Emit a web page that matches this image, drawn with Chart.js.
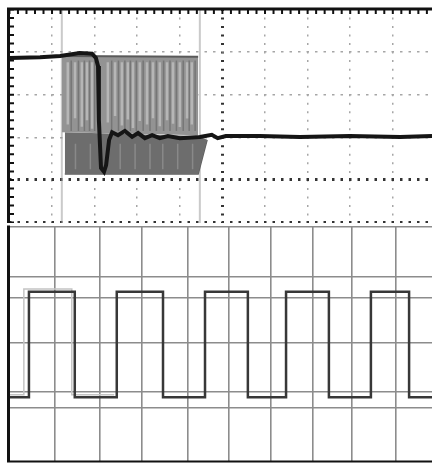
<!DOCTYPE html>
<html>
<head>
<meta charset="utf-8">
<script src="https://cdn.jsdelivr.net/npm/chart.js@4/dist/chart.umd.min.js"></script>
<style>
  html, body { margin: 0; padding: 0; background: #fff; width: 432px; height: 464px; overflow: hidden; }
  .panel { position: absolute; left: 7px; width: 425px; }
  #topPanel { top: 7px; height: 216px; }
  #bottomPanel { top: 225px; height: 239px; }
</style>
</head>
<body>
<div class="panel" id="topPanel"><canvas id="scopeTop"></canvas></div>
<div class="panel" id="bottomPanel"><canvas id="scopeBottom"></canvas></div>
<script>
// ---- top screen (divisions) ----
const traceT = [0, 0.72, 1.19, 1.65, 1.94, 2.03, 2.08, 2.10, 2.15, 2.22, 2.27, 2.34, 2.41, 2.55, 2.71, 2.88, 3.02, 3.18, 3.35, 3.53, 3.72, 4.00, 4.47, 4.75, 4.89, 5.08, 5.88, 6.82, 7.99, 9.17, 9.92];
const traceV = [3.86, 3.88, 3.91, 3.98, 3.96, 3.86, 3.67, 2.41, 1.28, 1.19, 1.35, 1.94, 2.12, 2.05, 2.15, 2.01, 2.10, 1.98, 2.05, 1.98, 2.03, 1.98, 2.01, 2.06, 1.98, 2.03, 2.03, 2.01, 2.03, 2.01, 2.03];

// persistence band left behind by the switching
const bandT = [1.23, 4.43];
const bandTopV = [3.91, 3.89];
const bandMidV = [2.12, 2.05];
const lowerT = [1.30, 4.43, 4.64];
const lowerTopV = [2.12, 2.03, 1.94];
const lowerBotV = [1.14, 1.14, 1.94];

const streakT = [1.37, 1.54, 1.70, 1.82, 1.94, 2.31, 2.48, 2.64, 2.78, 2.90, 3.06, 3.23, 3.37, 3.53, 3.70, 3.84, 4.00, 4.17, 4.28];
const streakLowV = [2.30, 2.45, 2.25, 2.40, 2.20, 2.35, 2.50, 2.28, 2.42, 2.22, 2.38, 2.30, 2.45, 2.26, 2.40, 2.32, 2.24, 2.44, 2.30];
const streakHighV = 3.76;
const darkStreakT = [1.45, 1.62, 1.76, 1.88, 2.00, 2.40, 2.56, 2.71, 2.84, 2.98, 3.14, 3.30, 3.45, 3.62, 3.77, 3.92, 4.08, 4.22, 4.36];
const darkStreakV = [2.15, 3.80];
const lowStreakT = [1.55, 1.90, 2.60, 2.95, 3.30, 3.60, 3.95, 4.30];
const lowStreakV = [1.25, 1.85];

const cursorT = [1.23, 4.47];

const topGridT = [1, 2, 3, 4, 5, 6, 7, 8, 9];
const topGridV = [0, 1, 2, 3, 4];

// ---- bottom screen ----
const waveEdges = [0.39, 1.47, 2.46, 3.55, 4.54, 5.55, 6.45, 7.46, 8.45, 9.35];
const waveHigh = 3.62;
const waveLow = 1.38;
const ghostEdges = [0.27, 1.40];
const ghostHigh = 3.68;
const ghostLow = 1.43;

const bottomGridT = [1.0, 2.06, 3.05, 4.14, 5.11, 6.1, 7.07, 8.01, 9.04];
const bottomGridV = [1.15, 1.49, 2.53, 3.49, 3.94, 5.0];

const pts = (xs, ys) => xs.map((x, i) => ({ x, y: ys[i] }));
const segments = (xs, lows, high) =>
  xs.flatMap((x, i) => [{ x, y: high }, { x, y: Array.isArray(lows) ? lows[i] : lows }, { x, y: null }]);
const steps = (edges, hi, lo, start, end) => {
  const p = [{ x: start, y: lo }];
  edges.forEach((x, i) => p.push({ x, y: i % 2 === 0 ? hi : lo }));
  p.push({ x: end, y: lo });
  return p;
};

const scopeFrame = {
  id: 'scopeFrame',
  afterDatasetsDraw(chart, args, opts) {
    const { ctx, chartArea: a, scales: { x, y } } = chart;
    ctx.save();
    ctx.strokeStyle = '#111';
    if (opts.minor) {
      ctx.lineWidth = 2;
      ctx.beginPath();
      for (let i = 0; i * opts.minor <= y.max; i++) {
        const py = y.getPixelForValue(i * opts.minor);
        ctx.moveTo(a.left, py);
        ctx.lineTo(a.left + 5, py);
      }
      for (let i = 0; i * opts.minor <= x.max; i++) {
        const px = x.getPixelForValue(i * opts.minor);
        ctx.moveTo(px, a.top);
        ctx.lineTo(px, a.top + 5);
      }
      ctx.stroke();
    }
    ctx.lineWidth = 3;
    ctx.beginPath();
    ctx.moveTo(a.left - 0.5, a.bottom);
    ctx.lineTo(a.left - 0.5, a.top - 1.5);
    if (opts.top) {
      ctx.moveTo(a.left - 2, a.top);
      ctx.lineTo(a.right, a.top);
    }
    ctx.stroke();
    if (opts.bottom) {
      ctx.lineWidth = 2;
      ctx.beginPath();
      ctx.moveTo(a.left - 2, a.bottom - 0.5);
      ctx.lineTo(a.right, a.bottom - 0.5);
      ctx.stroke();
    }
    ctx.restore();
  }
};

const axis = (min, max, ticks, grid, dash) => ({
  type: 'linear',
  min, max,
  afterBuildTicks: (scale) => { scale.ticks = ticks.map((value) => ({ value })); },
  ticks: { display: false },
  border: { display: false, dash },
  grid: Object.assign({ drawTicks: false }, grid)
});

const baseOptions = (scales, padding, frame) => ({
  responsive: true,
  maintainAspectRatio: false,
  animation: false,
  events: [],
  layout: { padding },
  scales,
  elements: { point: { radius: 0 }, line: { tension: 0 } },
  plugins: { legend: { display: false }, tooltip: { enabled: false }, scopeFrame: frame }
});

const darkAt = (v) => (ctx) => ctx.tick && ctx.tick.value === v;

new Chart(document.getElementById('scopeTop'), {
  type: 'line',
  plugins: [scopeFrame],
  data: {
    datasets: [
      { data: pts(traceT, traceV), borderColor: '#151515', borderWidth: 4, fill: false },
      { data: segments(streakT, streakLowV, streakHighV), borderColor: 'rgba(205,205,205,0.6)', borderWidth: 2.5, spanGaps: false, fill: false },
      { data: segments(darkStreakT, darkStreakV[0], darkStreakV[1]), borderColor: 'rgba(85,85,85,0.45)', borderWidth: 1.5, spanGaps: false, fill: false },
      { data: segments(lowStreakT, lowStreakV[0], lowStreakV[1]), borderColor: 'rgba(160,160,160,0.55)', borderWidth: 1.5, spanGaps: false, fill: false },
      { data: pts(bandT, bandTopV), borderColor: '#5a5a5a', borderWidth: 2, backgroundColor: '#939393', fill: 5 },
      { data: pts(bandT, bandMidV), borderWidth: 0, borderColor: 'rgba(0,0,0,0)', fill: false },
      { data: pts(lowerT, lowerTopV), borderWidth: 0, borderColor: 'rgba(0,0,0,0)', backgroundColor: '#6d6d6d', fill: 7 },
      { data: pts(lowerT, lowerBotV), borderColor: '#5f5f5f', borderWidth: 1.5, fill: false },
      { data: segments(cursorT, -0.01, 5.01), borderColor: 'rgba(150,150,150,0.5)', borderWidth: 2, spanGaps: false, fill: false }
    ]
  },
  options: baseOptions({
    x: axis(-0.01, 9.92, topGridT, {
      color: (c) => darkAt(5)(c) ? '#333' : '#a6a6a6',
      lineWidth: (c) => darkAt(5)(c) ? 3 : 1.5
    }, [2, 6.52]),
    y: axis(-0.01, 5.01, topGridV, {
      color: (c) => (darkAt(0)(c) || darkAt(1)(c)) ? '#333' : '#a6a6a6',
      lineWidth: (c) => (darkAt(0)(c) || darkAt(1)(c)) ? 3 : 1.5
    }, [2.5, 6])
  }, { left: 2, top: 2, right: 0, bottom: 0 }, { minor: 0.2, top: true })
});

new Chart(document.getElementById('scopeBottom'), {
  type: 'line',
  plugins: [scopeFrame],
  data: {
    datasets: [
      { data: steps(waveEdges, waveHigh, waveLow, -0.08, 9.89), stepped: 'before', borderColor: '#383838', borderWidth: 2.5, fill: false },
      { data: steps(ghostEdges, ghostHigh, ghostLow, -0.08, 2.4), stepped: 'before', borderColor: '#c4c4c4', borderWidth: 1.5, fill: false }
    ]
  },
  options: baseOptions({
    x: axis(-0.08, 9.89, bottomGridT, { color: '#8c8c8c', lineWidth: 1.6 }, []),
    y: axis(0, 5, bottomGridV, { color: '#8c8c8c', lineWidth: 1.6 }, [])
  }, { left: 2, top: 2, right: 0, bottom: 2 }, { bottom: true })
});
</script>
</body>
</html>
